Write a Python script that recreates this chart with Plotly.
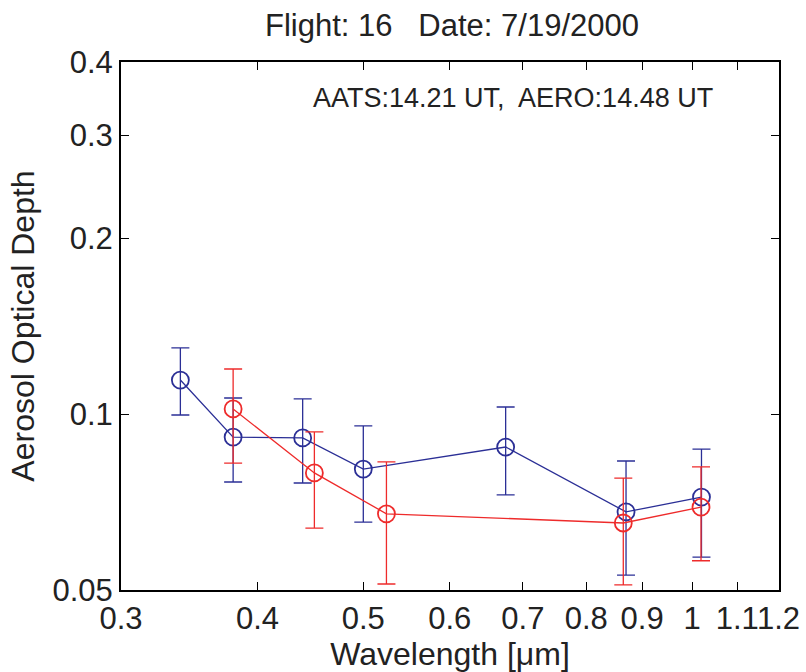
import plotly.graph_objects as go
import numpy as np

# AERONET (blue)
aero_wl = [0.340, 0.380, 0.440, 0.500, 0.675, 0.870, 1.020]
aero_aod = [0.1143, 0.0913, 0.0910, 0.0805, 0.0878, 0.0680, 0.0721]
aero_hi = [0.1297, 0.1065, 0.1061, 0.0954, 0.1028, 0.0831, 0.0871]
aero_lo = [0.0996, 0.0765, 0.0762, 0.0653, 0.0727, 0.0530, 0.0569]

# AATS (red)
aats_wl = [0.380, 0.451, 0.525, 0.865, 1.019]
aats_aod = [0.1020, 0.0793, 0.0675, 0.0651, 0.0693]
aats_hi = [0.1194, 0.0932, 0.0828, 0.0777, 0.0812]
aats_lo = [0.0824, 0.0638, 0.0512, 0.0510, 0.0561]

x_ticks = [0.3, 0.4, 0.5, 0.6, 0.7, 0.8, 0.9, 1.0, 1.1, 1.2]
x_ticktext = ["0.3", "0.4", "0.5", "0.6", "0.7", "0.8", "0.9", "1", "1.1", "1.2"]
y_ticks = [0.05, 0.1, 0.2, 0.3, 0.4]
y_ticktext = ["0.05", "0.1", "0.2", "0.3", "0.4"]

BLUE = "#2b2f96"
RED = "#ee2b2b"
FONT = "Liberation Sans, Arial, sans-serif"
TXT = "#222"

def trace(x, y, hi, lo, color):
    return go.Scatter(
        x=x, y=y, mode="lines+markers",
        line=dict(color=color, width=1.3),
        marker=dict(symbol="circle-open", size=17, color=color, line=dict(width=1.8, color=color)),
        error_y=dict(type="data", symmetric=False,
                     array=[h - v for h, v in zip(hi, y)],
                     arrayminus=[v - l for v, l in zip(y, lo)],
                     color=color, thickness=1.3, width=9),
        showlegend=False,
    )

fig = go.Figure()
fig.add_trace(trace(aero_wl, aero_aod, aero_hi, aero_lo, BLUE))
fig.add_trace(trace(aats_wl, aats_aod, aats_hi, aats_lo, RED))

axis_common = dict(
    showline=True, linecolor="black", linewidth=2, mirror="ticks",
    ticks="inside", ticklen=8, tickwidth=1, tickcolor="black",
    showgrid=False, zeroline=False, automargin=False, tickangle=0,
    tickfont=dict(family=FONT, size=31, color=TXT),
)

fig.update_layout(
    width=806, height=672,
    margin=dict(l=121, r=27, t=62, b=82),
    paper_bgcolor="white", plot_bgcolor="white",
    font=dict(family=FONT, color=TXT),
    title=dict(text="Flight: 16   Date: 7/19/2000", x=0.503, xanchor="center",
               xref="paper", y=1 - 25 / 672, yanchor="middle", yref="container",
               font=dict(family=FONT, size=31, color=TXT)),
    xaxis=dict(type="log", range=[np.log10(0.3), np.log10(1.2) + 0.0004],
               tickvals=x_ticks, ticktext=x_ticktext,
               title=dict(text="Wavelength [μm]", font=dict(family=FONT, size=32, color=TXT), standoff=2),
               **axis_common),
    yaxis=dict(type="log", range=[np.log10(0.05), np.log10(0.4)],
               tickvals=y_ticks, ticktext=y_ticktext,
               title=dict(text="Aerosol Optical Depth", font=dict(family=FONT, size=32, color=TXT), standoff=8),
               **axis_common),
    annotations=[dict(text="AATS:14.21 UT,  AERO:14.48 UT", xref="paper", yref="paper",
                      x=0.903, y=0.932, xanchor="right", yanchor="middle", showarrow=False,
                      font=dict(family=FONT, size=27, color=TXT))],
)

fig.write_html("out.html")
